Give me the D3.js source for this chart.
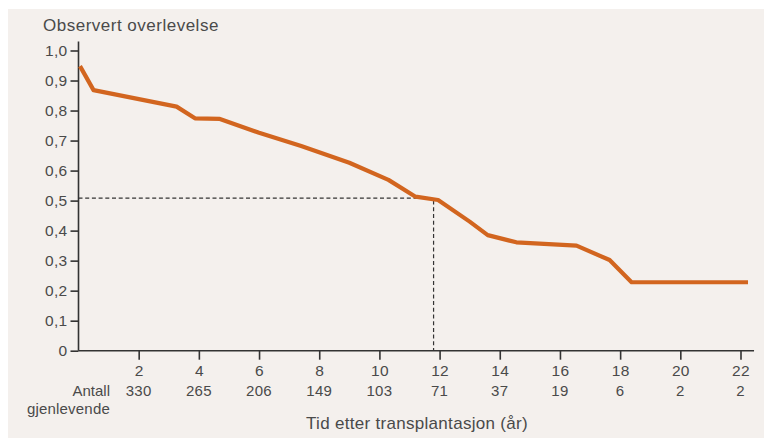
<!DOCTYPE html>
<html><head><meta charset="utf-8">
<script src="https://cdn.jsdelivr.net/npm/d3@7"></script>
<style>
html,body{margin:0;padding:0;background:#fff;}
svg{display:block;font-family:"Liberation Sans",Arial,sans-serif;}
</style></head>
<body><svg id="c" width="764" height="438"></svg>
<script>
// Survival curve (years, observed survival)
const years    = [0.05, 0.5, 3.26, 3.87, 4.7, 6.0, 7.4, 9.0, 10.3, 11.2, 11.95, 13.0, 13.6, 14.55, 16.55, 17.65, 18.38, 22.25];
const survival = [0.948, 0.868, 0.813, 0.774, 0.772, 0.726, 0.682, 0.626, 0.569, 0.513, 0.502, 0.43, 0.385, 0.361, 0.35, 0.302, 0.228, 0.228];
const xTicks   = [2, 4, 6, 8, 10, 12, 14, 16, 18, 20, 22];
const atRisk   = ["330", "265", "206", "149", "103", "71", "37", "19", "6", "2", "2"];
const yTicks   = [0, 0.1, 0.2, 0.3, 0.4, 0.5, 0.6, 0.7, 0.8, 0.9, 1.0];
const medianSurvival = 0.508, medianTime = 11.8, dashEnd = 11.3;

const svg = d3.select("#c");
svg.append("rect").attr("x", 8).attr("y", 9).attr("width", 756).attr("height", 429).attr("fill", "#f4f0ed");

const x = d3.scaleLinear().domain([0, 22]).range([78.5, 740.5]);
const y = d3.scaleLinear().domain([0, 1]).range([350.7, 50.5]);
const textCol = "#4a4a4a", axisCol = "#333";

// y axis
const gy = svg.append("g").attr("transform", `translate(${x(0)},0)`)
  .call(d3.axisLeft(y).tickValues(yTicks).tickSize(8).tickPadding(3)
    .tickFormat(d => d === 0 ? "0" : d3.format(".1f")(d).replace(".", ",")));
gy.select(".domain").attr("d", `M0,${y(1.03)}V${y(0)}`);
// x axis
const gx = svg.append("g").attr("transform", `translate(0,${y(0)})`)
  .call(d3.axisBottom(x).tickValues(xTicks).tickSize(9).tickPadding(5).tickFormat(d => d));
gx.select(".domain").attr("d", `M${x(0)},0H${x(22.45)}`);

[gx, gy].forEach(g => {
  g.selectAll(".domain").attr("stroke", axisCol).attr("stroke-width", 1.6);
  g.selectAll(".tick line").attr("stroke", axisCol).attr("stroke-width", 1.6);
  g.selectAll("text").attr("fill", textCol).style("font-size", "15.5px").style("letter-spacing", "0.3px");
});

// at-risk numbers
svg.append("g").selectAll("text").data(xTicks).join("text")
  .attr("x", d => x(d)).attr("y", 396).attr("text-anchor", "middle")
  .attr("fill", textCol).style("font-size", "15px").style("letter-spacing", "0.3px")
  .text((d, i) => atRisk[i]);
svg.append("text").attr("x", 110).attr("y", 396).attr("text-anchor", "end")
  .attr("fill", textCol).style("font-size", "15px").text("Antall");
svg.append("text").attr("x", 110).attr("y", 414).attr("text-anchor", "end")
  .attr("fill", textCol).style("font-size", "15px").style("letter-spacing", "0.2px").text("gjenlevende");
svg.append("text").attr("x", 417).attr("y", 429).attr("text-anchor", "middle")
  .attr("fill", textCol).style("font-size", "17px").style("letter-spacing", "0.3px").text("Tid etter transplantasjon (år)");
svg.append("text").attr("x", 43).attr("y", 31).attr("text-anchor", "start")
  .attr("fill", textCol).style("font-size", "17px").style("letter-spacing", "0.5px").text("Observert overlevelse");

// dashed median lines
svg.append("line").attr("x1", x(0)).attr("x2", x(dashEnd)).attr("y1", y(medianSurvival)).attr("y2", y(medianSurvival))
  .attr("stroke", "#333").attr("stroke-width", 1.2).attr("stroke-dasharray", "4,2.7");
svg.append("line").attr("x1", x(medianTime)).attr("x2", x(medianTime)).attr("y1", y(0.5)).attr("y2", y(0))
  .attr("stroke", "#333").attr("stroke-width", 1.2).attr("stroke-dasharray", "4,2.7");

// survival curve
const data = years.map((t, i) => [t, survival[i]]);
svg.append("path").datum(data)
  .attr("d", d3.line().x(d => x(d[0])).y(d => y(d[1])))
  .attr("fill", "none").attr("stroke", "#d2651f").attr("stroke-width", 4.2)
  .attr("stroke-linejoin", "round");
</script></body></html>
